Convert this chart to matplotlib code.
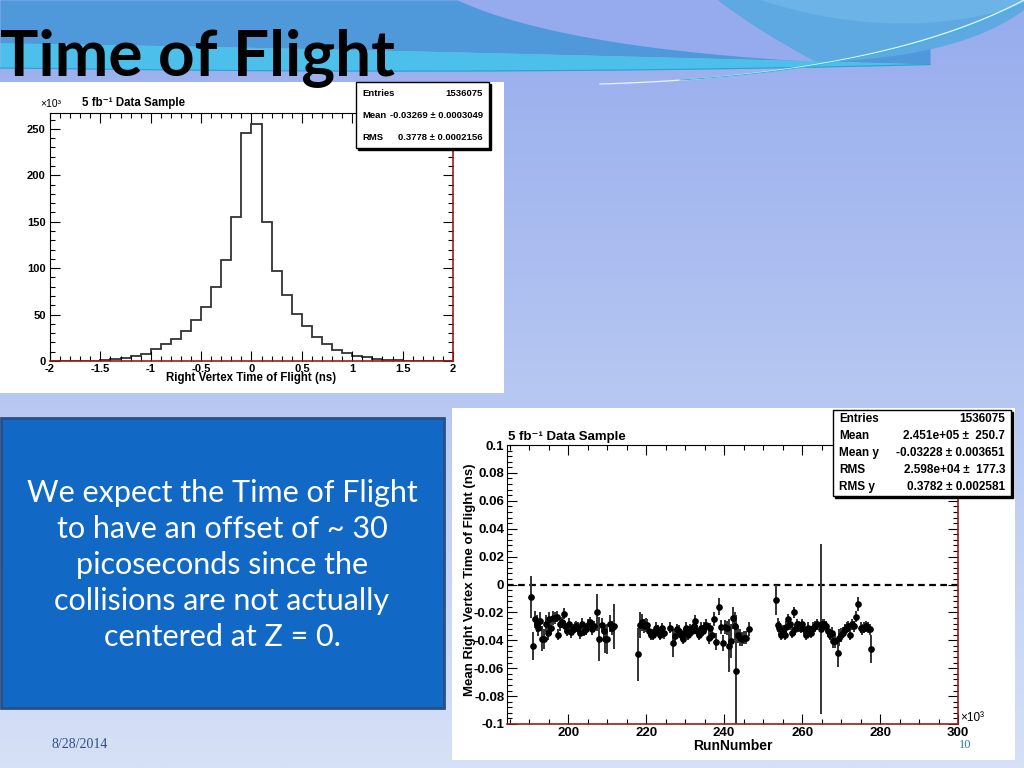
import numpy as np
import matplotlib
matplotlib.use("Agg")
import matplotlib.pyplot as plt
from matplotlib.patches import Rectangle, Polygon

W, H = 1024, 768

# ---------------- Daten: Histogramm (Einheiten 10^3) ----------------
hist_edges = np.round(np.arange(-2.0, 2.01, 0.1), 2)
hist_counts = [0, 0, 0, 0, 0.3, 1.0, 2.0, 3.5, 5.0, 7.5,
               13, 18.5, 24, 32.5, 44, 58, 80, 109, 155, 246,
               255, 150, 97, 71, 51, 37.5, 26, 18, 12, 8.2,
               5.7, 3.9, 2.5, 1.4, 0.8, 0.4, 0.1, 0, 0, 0]
hist_xticks = [-2, -1.5, -1, -0.5, 0, 0.5, 1, 1.5, 2]
hist_xticklabels = ["-2", "-1.5", "-1", "-0.5", "0", "0.5", "1", "1.5", "2"]
hist_yticks = [0, 50, 100, 150, 200, 250]

# ---------------- Daten: Profil gegen RunNumber (10^3) ----------------
run_1 = [190.4, 191.0, 191.4, 191.9, 192.3, 192.8, 193.3, 193.7, 194.2, 194.7,
         195.1, 195.6, 196.1, 196.5, 197.0, 197.5, 197.9, 198.4, 198.9, 199.3,
         199.8, 200.3, 200.7, 201.2, 201.7, 202.1, 202.6, 203.1, 203.5, 204.0,
         204.5, 205.0, 205.6, 206.1, 206.6, 207.4, 207.9, 208.6, 209.1, 209.5,
         210.0, 210.7, 211.2, 211.8]
mean_1 = [-0.009, -0.044, -0.025, -0.028, -0.031, -0.026, -0.039, -0.039, -0.028, -0.035,
          -0.025, -0.031, -0.024, -0.024, -0.023, -0.036, -0.028, -0.027, -0.021, -0.030,
          -0.033, -0.028, -0.034, -0.032, -0.031, -0.030, -0.031, -0.035, -0.028, -0.033,
          -0.032, -0.029, -0.027, -0.032, -0.030, -0.020, -0.039, -0.029, -0.033, -0.039,
          -0.039, -0.028, -0.031, -0.030]
err_1 = [0.015, 0.010, 0.006, 0.006, 0.006, 0.006, 0.009, 0.007, 0.006, 0.005,
         0.005, 0.005, 0.005, 0.004, 0.004, 0.004, 0.005, 0.004, 0.004, 0.004,
         0.004, 0.004, 0.004, 0.004, 0.004, 0.004, 0.004, 0.004, 0.004, 0.004,
         0.004, 0.004, 0.004, 0.004, 0.004, 0.013, 0.016, 0.005, 0.005, 0.010,
         0.011, 0.006, 0.005, 0.016]

run_2 = [218.0, 218.5, 218.9, 219.4, 219.9, 220.3, 220.8, 221.2, 221.7, 222.2,
         222.6, 223.1, 223.6, 224.0, 224.5, 226.1, 227.0, 227.5, 228.0, 228.4,
         228.9, 229.4, 229.8, 230.3, 230.8, 231.2, 231.7, 232.2, 232.6, 233.1,
         233.6, 234.0, 234.5, 234.9, 235.4, 236.1, 236.5, 237.0, 237.5, 238.0,
         238.7, 239.1, 239.6, 240.3, 240.8, 241.3, 241.8, 242.2, 242.7, 243.1,
         243.6, 244.1, 244.7, 245.2, 245.7, 246.3]
mean_2 = [-0.050, -0.029, -0.027, -0.030, -0.029, -0.029, -0.033, -0.036, -0.036, -0.034,
          -0.031, -0.033, -0.036, -0.0315, -0.035, -0.031, -0.042, -0.037, -0.032, -0.033,
          -0.036, -0.039, -0.035, -0.031, -0.036, -0.032, -0.033, -0.030, -0.026, -0.033,
          -0.036, -0.031, -0.033, -0.031, -0.029, -0.038, -0.0315, -0.036, -0.025, -0.041,
          -0.016, -0.0305, -0.042, -0.0305, -0.0315, -0.044, -0.0405, -0.024, -0.030, -0.062,
          -0.036, -0.038, -0.039, -0.038, -0.038, -0.032]
err_2 = [0.019, 0.009, 0.006, 0.005, 0.005, 0.004, 0.004, 0.004, 0.004, 0.004,
         0.004, 0.004, 0.004, 0.004, 0.004, 0.004, 0.010, 0.005, 0.004, 0.004,
         0.004, 0.004, 0.004, 0.004, 0.004, 0.004, 0.004, 0.004, 0.004, 0.004,
         0.004, 0.004, 0.004, 0.004, 0.004, 0.005, 0.004, 0.004, 0.005, 0.006,
         0.006, 0.005, 0.006, 0.005, 0.005, 0.019, 0.012, 0.008, 0.010, 0.040,
         0.006, 0.006, 0.005, 0.005, 0.005, 0.005]

run_3 = [253.2, 253.7, 254.1, 254.6, 255.1, 255.5, 256.0, 256.4, 256.8, 257.3,
         257.9, 258.2, 258.7, 259.2, 259.6, 260.1, 260.6, 261.0, 261.5, 262.0,
         262.4, 262.9, 263.4, 263.8, 264.8, 265.2, 265.7, 266.2, 266.6, 267.1,
         267.6, 268.0, 268.5, 269.1, 269.5, 270.0, 270.5, 271.0, 271.5, 271.9,
         272.4, 272.9, 273.3, 273.8, 274.3, 275.0, 275.5, 276.0, 276.4, 276.9,
         277.4, 277.8]
mean_3 = [-0.011, -0.029, -0.0315, -0.036, -0.033, -0.036, -0.0305, -0.025, -0.0286, -0.0346,
          -0.020, -0.032, -0.0286, -0.030, -0.031, -0.0286, -0.032, -0.036, -0.031, -0.0334,
          -0.0346, -0.031, -0.030, -0.0286, -0.032, -0.0286, -0.0286, -0.030, -0.0334, -0.036,
          -0.0346, -0.0405, -0.0405, -0.049, -0.038, -0.036, -0.0346, -0.032, -0.031, -0.030,
          -0.036, -0.0286, -0.030, -0.023, -0.014, -0.031, -0.032, -0.031, -0.030, -0.031,
          -0.032, -0.046]
err_3 = [0.011, 0.005, 0.005, 0.004, 0.004, 0.004, 0.004, 0.004, 0.004, 0.004,
         0.004, 0.004, 0.004, 0.004, 0.004, 0.004, 0.004, 0.004, 0.004, 0.004,
         0.004, 0.004, 0.004, 0.004, 0.061, 0.004, 0.004, 0.004, 0.004, 0.004,
         0.004, 0.005, 0.005, 0.010, 0.006, 0.005, 0.004, 0.004, 0.004, 0.004,
         0.004, 0.004, 0.004, 0.004, 0.005, 0.004, 0.004, 0.004, 0.004, 0.004,
         0.004, 0.010]

prof_xticks = [200, 220, 240, 260, 280, 300]
prof_yticks = [-0.1, -0.08, -0.06, -0.04, -0.02, 0, 0.02, 0.04, 0.06, 0.08, 0.1]
prof_yticklabels = ["-0.1", "-0.08", "-0.06", "-0.04", "-0.02", "0",
                    "0.02", "0.04", "0.06", "0.08", "0.1"]

stats_1 = [("Entries", "1536075"),
           ("Mean", "-0.03269 \u00b1 0.0003049"),
           ("RMS", "0.3778 \u00b1 0.0002156")]
stats_2 = [("Entries", "1536075"),
           ("Mean", "2.451e+05 \u00b1  250.7"),
           ("Mean y", "-0.03228 \u00b1 0.003651"),
           ("RMS", "2.598e+04 \u00b1  177.3"),
           ("RMS y", "0.3782 \u00b1 0.002581")]

folie_text = ("We expect the Time of Flight\nto have an offset of ~ 30\n"
              "picoseconds since the\ncollisions are not actually\n"
              "centered at Z = 0.")

# ---------------- Schriften ----------------
root_font = ["Liberation Sans", "DejaVu Sans"]
body_font = ["Lato", "DejaVu Sans"]
serif_font = ["Liberation Serif", "DejaVu Serif"]

dark_red = "#9a1c1c"


def box(l, t, r, b):
    """ Pixelkoordinaten (von oben) -> Figure-Koordinaten """
    return [l / W, 1 - b / H, (r - l) / W, (b - t) / H]


def bez(p0, p1, p2, n=60):
    """ quadratische Bezierkurve in Pixelkoordinaten """
    s = np.linspace(0, 1, n)[:, None]
    p0, p1, p2 = map(np.asarray, (p0, p1, p2))
    return (1 - s) ** 2 * p0 + 2 * (1 - s) * s * p1 + s ** 2 * p2


def root_style(ax, size):
    """ ROOT-artige Achsen: Ticks innen, oben/rechts gespiegelt """
    ax.tick_params(which="both", direction="in", top=True, right=True,
                   labelsize=size, pad=2)
    ax.tick_params(which="major", length=7, width=0.8)
    ax.tick_params(which="minor", length=3.5, width=0.8)
    for lab in ax.get_xticklabels() + ax.get_yticklabels():
        lab.set_fontweight("bold")
        lab.set_family(root_font)
    for s in ["bottom", "right"]:
        ax.spines[s].set_color(dark_red)
        ax.spines[s].set_linewidth(1.2)


def stats_box(ov, l, t, r, b, rows, size, pad):
    ov.add_patch(Rectangle((l + 2, t + 2), r - l, b - t, color="black", zorder=4))
    ov.add_patch(Rectangle((l, t), r - l, b - t, facecolor="white",
                           edgecolor="black", lw=1.0, zorder=5))
    step = (b - t) / len(rows)
    for i, (name, val) in enumerate(rows):
        yy = t + step * (i + 0.5)
        ov.text(l + pad, yy, name, ha="left", va="center", fontsize=size,
                fontweight="bold", family=root_font, zorder=6)
        ov.text(r - pad, yy, val, ha="right", va="center", fontsize=size,
                fontweight="bold", family=root_font, zorder=6)


fig = plt.figure(figsize=(W / 100, H / 100), dpi=100)

# ---------------- Hintergrund der Folie ----------------
bg = fig.add_axes([0, 0, 1, 1], zorder=0)
bg.set_xlim(0, W)
bg.set_ylim(H, 0)
bg.axis("off")
top_c = np.array([150, 172, 237]) / 255
bot_c = np.array([214, 225, 247]) / 255
t = np.linspace(0, 1, 256)[:, None, None]
grad = top_c[None, None, :] * (1 - t) + bot_c[None, None, :] * t
bg.imshow(grad, extent=(0, W, H, 0), aspect="auto", zorder=0)

# Wellen im Kopfbereich
xs = np.linspace(0, 930, 200)
band_top = 43 + 21 * (xs / 930) ** 1.2
band_bot = band_top + 25 * (1 - (xs / 940) ** 2)
bg.fill_between(xs, 0, band_top, color="#4f99da", zorder=1, lw=0)
# lavendelfarbener Keil
wl = bez((457, 0), (560, 48), (817, 62))
wr = bez((817, 62), (760, 32), (718, 0))
bg.add_patch(Polygon(np.vstack([wl, wr]), closed=True, color="#95abee", lw=0, zorder=1))
# rechte hellblaue Sichel
cr = np.vstack([wr[::-1], bez((817, 62), (960, 58), (1024, 10)), [[1024, 0]]])
bg.add_patch(Polygon(cr, closed=True, color="#5ea9e2", lw=0, zorder=1))
hl = np.vstack([bez((760, 0), (900, 45), (1024, 4)), [[1024, 0]]])
bg.add_patch(Polygon(hl, closed=True, color="#6cb4e7", lw=0, zorder=1))
# cyanfarbenes Band
bg.fill_between(xs, band_top, band_bot, color="#4cc0ea", zorder=1, lw=0)
bg.plot(xs, band_bot, color="#2f9fd2", lw=0.8, zorder=1)
arc = bez((600, 84), (880, 76), (1024, 0))
bg.plot(arc[:, 0], arc[:, 1], color="#e4f6fc", lw=0.9, zorder=1)
arc2 = bez((680, 80), (900, 66), (1024, 3))
bg.plot(arc2[:, 0], arc2[:, 1], color="#3fb6e0", lw=0.8, zorder=1)

# weisse Flaechen fuer die Plots
bg.add_patch(Rectangle((0, 82), 504, 311, facecolor="white", edgecolor="none", zorder=2))
bg.add_patch(Rectangle((452, 408), 563, 352, facecolor="white", edgecolor="none", zorder=2))

# blaue Textbox
bg.add_patch(Rectangle((1, 418), 443, 290, facecolor="#1168c5",
                       edgecolor="#2a4f86", lw=2, zorder=2))
bg.text(222, 565, folie_text, ha="center", va="center", color="white",
        fontsize=22, family=body_font, linespacing=1.34, zorder=3)

# Datum
bg.text(52, 745, "8/28/2014", ha="left", va="center", fontsize=10,
        family=serif_font, color="#2f4f86", zorder=3)

# ---------------- Plot 1: Histogramm ----------------
ax1 = fig.add_axes(box(50, 113, 453, 361), zorder=3)
ax1.stairs(hist_counts, hist_edges, color="#333333", lw=1.3)
ax1.set_xlim(-2, 2)
ax1.set_ylim(0, 267)
ax1.set_xticks(hist_xticks)
ax1.set_xticklabels(hist_xticklabels)
ax1.set_xticks(np.arange(-2, 2.01, 0.1), minor=True)
ax1.set_yticks(hist_yticks)
ax1.set_yticks(np.arange(0, 267, 10), minor=True)
root_style(ax1, 8)
ax1.tick_params(axis="y", pad=3)
ax1.set_xlabel("Right Vertex Time of Flight (ns)", fontsize=8.3, fontweight="bold",
               family=root_font, labelpad=-1)

# ---------------- Plot 2: Profil ----------------
ax2 = fig.add_axes(box(507, 445, 958, 724), zorder=3)
ax2.axhline(0, color="black", ls=(0, (3, 2)), lw=1.6, zorder=1)
for rr, mm, ee in [(run_1, mean_1, err_1), (run_2, mean_2, err_2), (run_3, mean_3, err_3)]:
    ax2.errorbar(rr, mm, yerr=ee, xerr=0.22, fmt="o", ms=3.8, color="black",
                 ecolor="#333333", elinewidth=1.4, capsize=0, zorder=2)
ax2.set_xlim(184.3, 300)
ax2.set_ylim(-0.1, 0.1)
ax2.set_xticks(prof_xticks)
ax2.set_xticks(np.arange(185, 301, 5), minor=True)
ax2.set_yticks(prof_yticks)
ax2.set_yticklabels(prof_yticklabels)
ax2.set_yticks(np.arange(-0.1, 0.1001, 0.004), minor=True)
root_style(ax2, 9.5)
ax2.set_xlabel("RunNumber", fontsize=10, fontweight="bold", family=root_font,
               labelpad=0)

# ---------------- Overlay: Titel, Statistikboxen, Beschriftungen ----------------
ov = fig.add_axes([0, 0, 1, 1], zorder=10)
ov.set_xlim(0, W)
ov.set_ylim(H, 0)
ov.axis("off")
ov.patch.set_alpha(0)

ov.text(0, 75, "Time of Flight", fontsize=46, fontweight="bold",
        family=["Lato", "DejaVu Sans"], color="black", va="baseline", ha="left")

ov.text(40, 104, "\u00d710\u00b3", fontsize=7.5, family=root_font, va="center")
ov.text(82, 103, "5 fb\u207b\u00b9 Data Sample", fontsize=8.3, fontweight="bold",
        family=root_font, va="center")
stats_box(ov, 356, 82, 489, 148, stats_1, 6.8, 6)

ov.text(470, 580, "Mean Right Vertex Time of Flight (ns)", rotation=90,
        ha="center", va="center", fontsize=9.5, fontweight="bold", family=root_font)
ov.text(508, 437, "5 fb\u207b\u00b9 Data Sample", fontsize=9.5, fontweight="bold",
        family=root_font, va="center")
ov.text(960, 718, "\u00d710\u00b3", fontsize=8.5, family=root_font, va="center")
stats_box(ov, 833, 410, 1011, 496, stats_2, 8.5, 6)

ov.text(965, 745, "10", ha="center", va="center", fontsize=9,
        family=serif_font, color="#2a7fa0")

fig.savefig("out.png", dpi=100)
